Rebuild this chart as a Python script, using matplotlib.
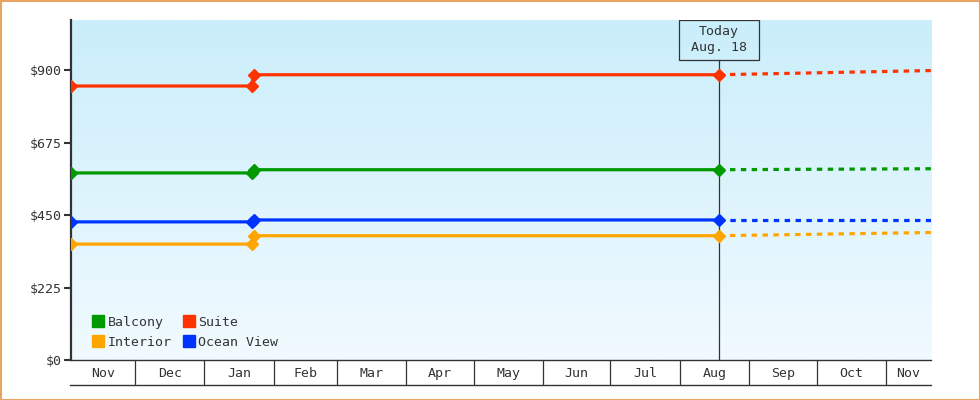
import datetime as dt

import matplotlib
matplotlib.use("Agg")
import matplotlib.dates as mdates
import matplotlib.pyplot as plt
import numpy as np
from matplotlib.lines import Line2D
from matplotlib.patches import Rectangle
from matplotlib.transforms import blended_transform_factory

plt.rcParams["font.family"] = ["DejaVu Sans Mono", "DejaVu Sans"]

# data
series_names = ["Balcony", "Interior", "Suite", "Ocean View"]
series_colors = ["#009900", "#ffa500", "#ff3300", "#0033ff"]

# price history (solid): start, last day of old price, first day of new price, today
hist_dates = [dt.datetime(2018, 11, 2, 12), dt.datetime(2019, 1, 22),
              dt.datetime(2019, 1, 23), dt.datetime(2019, 8, 18, 12)]
hist_balcony = [581, 581, 591, 591]
hist_interior = [360, 360, 386, 386]
hist_suite = [851, 851, 886, 886]
hist_ocean = [429, 429, 435, 435]

# forecast (dashed): today -> end of chart
fc_dates = [dt.datetime(2019, 8, 18, 12), dt.datetime(2019, 11, 21)]
fc_balcony = [591, 594]
fc_interior = [386, 396]
fc_suite = [886, 899]
fc_ocean = [435, 435]

hist = [hist_balcony, hist_interior, hist_suite, hist_ocean]
fc = [fc_balcony, fc_interior, fc_suite, fc_ocean]

today = dt.datetime(2019, 8, 18, 12)
x_start = dt.datetime(2018, 11, 2, 12)
x_end = dt.datetime(2019, 11, 21)
y_ticks = [0, 225, 450, 675, 900]
y_max = 1056

TXT = "#333333"

fig = plt.figure(figsize=(9.8, 4.0), dpi=100)
fig.patch.set_facecolor("white")
ax = fig.add_axes([71 / 980, 40 / 400, 860 / 980, 340 / 400])

# gradient background
grad = np.linspace(0, 1, 256).reshape(-1, 1)
top = np.array([0xca, 0xee, 0xfb]) / 255
bot = np.array([0xf1, 0xfa, 0xff]) / 255
img = top[None, None, :] * (1 - grad[:, :, None]) + bot[None, None, :] * grad[:, :, None]
ax.imshow(img, extent=[0, 1, 0, 1], transform=ax.transAxes, aspect="auto", zorder=0)

for vals, c in zip(hist, series_colors):
    ax.plot(hist_dates, vals, color=c, lw=2.3, marker="D", markersize=6.5,
            solid_capstyle="butt", zorder=3)
for vals, c in zip(fc, series_colors):
    ax.plot(fc_dates, vals, color=c, lw=2.3, linestyle=(0, (1.7, 1.7)), zorder=3)

ax.set_xlim(x_start, x_end)
ax.set_ylim(0, y_max)

# y axis
ax.set_yticks(y_ticks)
ax.set_yticklabels([f"${v}" for v in y_ticks])
ax.tick_params(axis="y", length=5, width=1.5, color=TXT, pad=2, labelsize=9.5, labelcolor=TXT)

for s in ["top", "right"]:
    ax.spines[s].set_visible(False)
ax.spines["left"].set_linewidth(1.6)
ax.spines["left"].set_color(TXT)
ax.spines["bottom"].set_linewidth(1.0)
ax.spines["bottom"].set_color(TXT)

# x axis: month cells
month_starts = []
d = dt.datetime(2018, 12, 1)
while d < x_end:
    month_starts.append(d)
    d = dt.datetime(d.year + (d.month == 12), d.month % 12 + 1, 1)

edges = [x_start] + month_starts + [x_end]
centers = []
labels = []
for a, b in zip(edges[:-1], edges[1:]):
    centers.append(a + (b - a) / 2)
    labels.append(a.strftime("%b"))

ax.set_xticks(month_starts)
ax.set_xticklabels([])
ax.set_xticks(centers, minor=True)
ax.set_xticklabels(labels, minor=True)
ax.tick_params(axis="x", which="major", length=18, width=0.9, color=TXT, direction="out")
ax.tick_params(axis="x", which="minor", length=0, pad=5, labelsize=9.5, labelcolor=TXT)

fig.add_artist(Line2D([70 / 980, 931 / 980], [1 - 385 / 400] * 2, color=TXT, lw=1.0))

# today marker
trans = blended_transform_factory(ax.transData, ax.transAxes)
tnum = mdates.date2num(today)
box_w = 80 / 860 * (mdates.date2num(x_end) - mdates.date2num(x_start))
box_bottom = 1 - 40 / 340
ax.plot([tnum, tnum], [0, box_bottom], transform=trans, color=TXT, lw=0.9, zorder=2)
ax.add_patch(Rectangle((tnum - box_w / 2, box_bottom), box_w, 1 - box_bottom,
                       transform=trans, fill=False, edgecolor=TXT, lw=0.9, zorder=4))
ax.text(tnum, 1 - 20 / 340, "Today\nAug. 18", transform=trans, ha="center", va="center",
        fontsize=9.5, color=TXT, linespacing=1.3, zorder=5)

# legend
handles = [Line2D([], [], marker="s", linestyle="none", color=c, markersize=8)
           for c in series_colors]
ax.legend(handles, series_names, ncol=2, loc="lower left",
          bbox_to_anchor=((93 - 71) / 860, (360 - 349) / 340),
          frameon=False, borderpad=0, borderaxespad=0, handlelength=0.8,
          handletextpad=0.3, columnspacing=0.9, labelspacing=0.55,
          prop={"size": 9.5}, labelcolor=TXT)

# orange border
fig.add_artist(Rectangle((0, 0), 1, 1, transform=fig.transFigure, fill=False,
                         edgecolor="#e8a460", lw=2.2))

fig.savefig("out.png", dpi=100)
